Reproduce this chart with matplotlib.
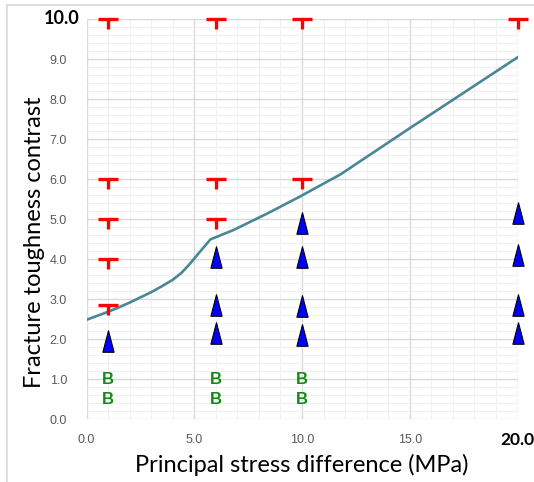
import numpy as np
import matplotlib
matplotlib.use('Agg')
import matplotlib.pyplot as plt
from matplotlib.path import Path
from matplotlib.lines import Line2D

# ==================================================================
## data
curve_x = [0, 0.5, 1, 1.5, 2, 2.5, 3, 3.5, 4, 4.4, 4.75, 5.2, 5.75, 6.8, 8.4, 9.9, 11.8, 15, 20]
curve_y = [2.48, 2.58, 2.68, 2.79, 2.91, 3.04, 3.17, 3.32, 3.48, 3.65, 3.85, 4.14, 4.49,
           4.72, 5.14, 5.56, 6.12, 7.27, 9.04]

t_x = [1, 1, 1, 1, 1, 6, 6, 6, 10, 10, 20]
t_y = [10, 6, 5, 4, 2.85, 10, 6, 5, 10, 6, 10]

tri_x = [1, 6, 6, 6, 10, 10, 10, 10, 20, 20, 20, 20]
tri_y = [1.95, 4.05, 2.86, 2.14, 4.9, 4.05, 2.82, 2.1, 5.14, 4.1, 2.86, 2.14]

b_x = [1, 1, 6, 6, 10, 10]
b_y = [1.0, 0.5, 1.0, 0.5, 1.0, 0.5]

x_ticks = [0, 5, 10, 15, 20]
y_ticks = [0, 1, 2, 3, 4, 5, 6, 7, 8, 9, 10]

# ==================================================================
## custom markers
t_marker = Path([(-1, 0), (1, 0), (0, 0), (0, -1)],
                [Path.MOVETO, Path.LINETO, Path.MOVETO, Path.LINETO])
tri_marker = Path([(0, 1), (-0.52, -1), (0.52, -1), (0, 1)],
                  [Path.MOVETO, Path.LINETO, Path.LINETO, Path.CLOSEPOLY])

fig = plt.figure(figsize=(5.34, 4.82), dpi=100)
ax = fig.add_axes([86.5/534, 1-419/482, 431/534, 400/482])

## outer chart border (left and top only are visible)
fig.add_artist(Line2D([7/534, 7/534], [0, 1-5/482], transform=fig.transFigure,
                      color='#d9d9d9', linewidth=1.2))
fig.add_artist(Line2D([7/534, 1], [1-5/482, 1-5/482], transform=fig.transFigure,
                      color='#d9d9d9', linewidth=1.2))

ax.set_xlim(0, 20)
ax.set_ylim(0, 10)
ax.set_xticks(x_ticks)
ax.set_yticks(y_ticks)
ax.set_xticks(np.arange(0, 21, 1), minor=True)
ax.set_yticks(np.arange(0, 10.01, 0.2), minor=True)
ax.grid(which='major', color='#d9d9d9', linewidth=1.0, zorder=0)
ax.grid(which='minor', color='#f0f0f0', linewidth=0.8, zorder=0)
ax.set_axisbelow(True)
for s in ax.spines.values():
    s.set_visible(False)
ax.tick_params(which='both', length=0)

## tick labels (last ones drawn bold separately)
ax.set_xticklabels(['%.1f' % v for v in x_ticks[:-1]] + [''], fontsize=9, color='#595959',
                   family='Liberation Sans')
ax.set_yticklabels(['%.1f' % v for v in y_ticks[:-1]] + [''], fontsize=9, color='#595959',
                   family='Liberation Sans')
ax.tick_params(axis='x', pad=11)
ax.tick_params(axis='y', pad=14)
ax.annotate('%.1f' % y_ticks[-1], xy=(0, y_ticks[-1]), xytext=(-5, 0), textcoords='offset points',
            ha='right', va='center', fontsize=13, fontweight='bold', family='Lato', color='black',
            annotation_clip=False)
ax.annotate('%.1f' % x_ticks[-1], xy=(x_ticks[-1], 0), xytext=(0, -15), textcoords='offset points',
            ha='center', va='center', fontsize=12.5, fontweight='bold', family='Lato', color='black',
            annotation_clip=False)

## curve
ax.plot(curve_x, curve_y, color='#4a8796', linewidth=1.9, zorder=3)

## markers
ax.plot(t_x, t_y, linestyle='none', marker=t_marker, markersize=14, markerfacecolor='none',
        markeredgecolor='#ff0000', markeredgewidth=2.4, clip_on=False, zorder=4)
ax.plot(tri_x, tri_y, linestyle='none', marker=tri_marker, markersize=15.5, markerfacecolor='#0000ff',
        markeredgecolor='black', markeredgewidth=0.8, clip_on=False, zorder=4)
for bx, by in zip(b_x, b_y):
    ax.text(bx, by, 'B', ha='center', va='center', fontsize=12, fontweight='bold',
            family='Liberation Sans', color='#138a13', zorder=4)

## axis titles
ax.set_xlabel('Principal stress difference (MPa)', fontsize=17, family='Lato', color='black')
ax.xaxis.set_label_coords(0.5, -0.115)
ax.xaxis.label.set_va('center')
ax.set_ylabel('Fracture toughness contrast', fontsize=17, family='Lato', color='black')
ax.yaxis.set_label_coords(-0.12, 0.4425)
ax.yaxis.label.set_va('center')

fig.savefig('out.png', dpi=100)
